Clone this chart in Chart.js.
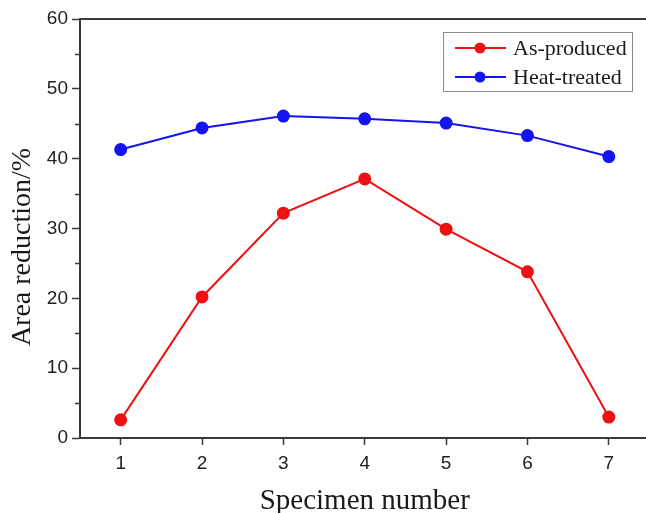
<!DOCTYPE html>
<html>
<head>
<meta charset="utf-8">
<script src="https://cdn.jsdelivr.net/npm/chart.js@4/dist/chart.umd.min.js"></script>
<style>
  html, body { margin: 0; padding: 0; background: #fff; overflow: hidden; }
  #wrap { position: relative; width: 657px; height: 513px; }
</style>
</head>
<body>
<div id="wrap"><canvas id="chart"></canvas></div>
<script>
// specimen numbers and measured area reduction (%)
const specimens = [1, 2, 3, 4, 5, 6, 7];
const asProduced = [2.6, 20.2, 32.2, 37.1, 29.9, 23.8, 3.0];
const heatTreated = [41.3, 44.4, 46.1, 45.7, 45.1, 43.3, 40.3];
const yTicks = [0, 10, 20, 30, 40, 50, 60];
const yMinorTicks = [5, 15, 25, 35, 45, 55];
const yTitle = "Area reduction/%";

const axisColor = "#3a3a3a";
const serif = "'Liberation Serif', 'Times New Roman', serif";

// minor y ticks, top frame line, y title and the boxed legend inside the plot
const framePlugin = {
    id: "frame",
    afterDraw(chart) {
        const ctx = chart.ctx;
        const area = chart.chartArea;
        const y = chart.scales.y;
        ctx.save();
        ctx.strokeStyle = axisColor;
        ctx.lineWidth = 2;
        ctx.beginPath();
        ctx.moveTo(area.left - 1, area.top);
        ctx.lineTo(area.right, area.top);
        ctx.stroke();

        ctx.lineWidth = 1.5;
        yMinorTicks.forEach(v => {
            const py = Math.round(y.getPixelForValue(v)) + 0.5;
            ctx.beginPath();
            ctx.moveTo(area.left - 5, py);
            ctx.lineTo(area.left, py);
            ctx.stroke();
        });

        // y title, a bit below the middle like the original
        ctx.save();
        ctx.translate(23, 247);
        ctx.rotate(-Math.PI / 2);
        ctx.font = "28px " + serif;
        ctx.fillStyle = "#1a1a1a";
        ctx.textAlign = "center";
        ctx.textBaseline = "middle";
        ctx.fillText(yTitle, 0, 0);
        ctx.restore();

        // legend box
        const bx = 443, by = 32, bw = 189, bh = 59;
        ctx.fillStyle = "#fff";
        ctx.fillRect(bx, by, bw, bh);
        ctx.strokeStyle = "#8a8a8a";
        ctx.lineWidth = 1;
        ctx.strokeRect(bx + 0.5, by + 0.5, bw, bh);
        ctx.font = "22px " + serif;
        ctx.textBaseline = "middle";
        chart.data.datasets.forEach((ds, i) => {
            const ly = by + 16 + i * 29;
            ctx.strokeStyle = ds.borderColor;
            ctx.lineWidth = 2;
            ctx.beginPath();
            ctx.moveTo(455, ly);
            ctx.lineTo(506, ly);
            ctx.stroke();
            ctx.fillStyle = ds.borderColor;
            ctx.beginPath();
            ctx.arc(480, ly, 5.5, 0, Math.PI * 2);
            ctx.fill();
            ctx.fillStyle = "#1a1a1a";
            ctx.fillText(ds.label, 513, ly + 1);
        });
        ctx.restore();
    }
};

new Chart(document.getElementById("chart"), {
    type: "line",
    data: {
        datasets: [
            {
                label: "As-produced",
                data: specimens.map((s, i) => ({ x: s, y: asProduced[i] })),
                borderColor: "#ee1111",
                backgroundColor: "#ee1111",
                borderWidth: 2,
                pointRadius: 5.5,
                pointHoverRadius: 5.5,
                tension: 0
            },
            {
                label: "Heat-treated",
                data: specimens.map((s, i) => ({ x: s, y: heatTreated[i] })),
                borderColor: "#1414f0",
                backgroundColor: "#1414f0",
                borderWidth: 2,
                pointRadius: 5.5,
                pointHoverRadius: 5.5,
                tension: 0
            }
        ]
    },
    options: {
        responsive: true,
        maintainAspectRatio: false,
        animation: false,
        layout: { padding: { top: 19, right: 0, left: 0, bottom: 0 } },
        plugins: {
            legend: { display: false },
            tooltip: { enabled: false }
        },
        scales: {
            x: {
                type: "linear",
                min: 0.5,
                max: 7.5,
                afterBuildTicks: scale => { scale.ticks = specimens.map(v => ({ value: v })); },
                afterFit: scale => { scale.height = 75; },
                grid: { drawOnChartArea: false, drawTicks: true, tickLength: 7, tickColor: axisColor, tickWidth: 1.5 },
                border: { display: true, color: axisColor, width: 2 },
                ticks: {
                    color: "#222",
                    padding: 7,
                    font: { family: "'Liberation Sans', Arial, sans-serif", size: 19 }
                },
                title: {
                    display: true,
                    text: "Specimen number",
                    color: "#1a1a1a",
                    padding: { top: 0, bottom: -6 },
                    font: { family: serif, size: 29 }
                }
            },
            y: {
                min: 0,
                max: 60,
                afterBuildTicks: scale => { scale.ticks = yTicks.map(v => ({ value: v })); },
                afterFit: scale => { scale.width = 80; },
                grid: { drawOnChartArea: false, drawTicks: true, tickLength: 8, tickColor: axisColor, tickWidth: 1.5 },
                border: { display: true, color: axisColor, width: 2 },
                ticks: {
                    color: "#222",
                    padding: 4,
                    font: { family: "'Liberation Sans', Arial, sans-serif", size: 19 }
                },
                title: { display: false }
            }
        }
    },
    plugins: [framePlugin]
});
</script>
</body>
</html>
